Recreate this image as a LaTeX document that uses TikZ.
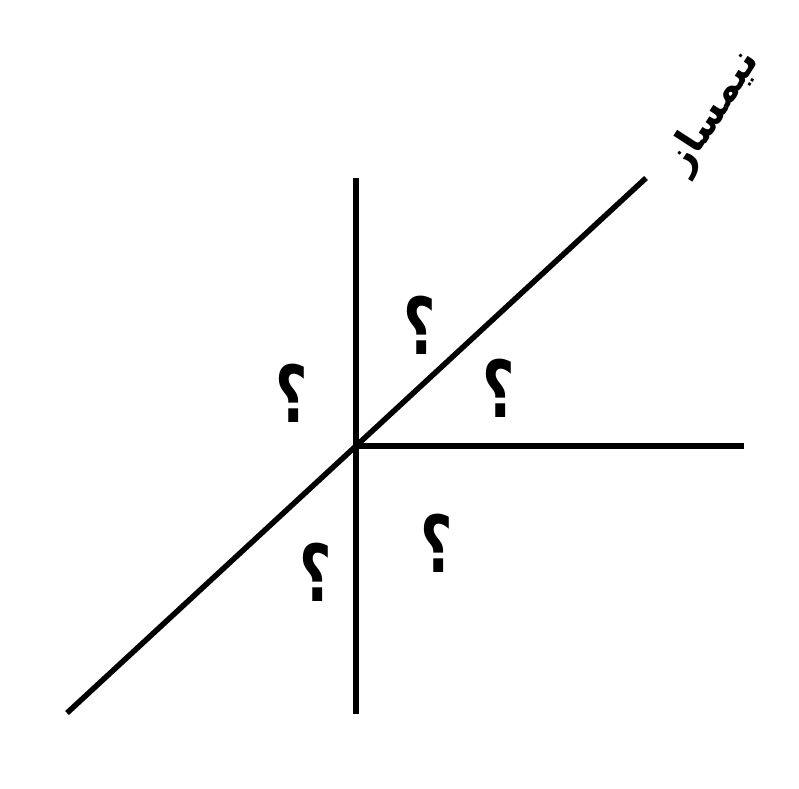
\documentclass[tikz,border=0pt]{standalone}
\usepackage{fontspec}
\usepackage{graphicx}
\TeXXeTstate=1
\newfontfamily\arabicfont[Script=Arabic]{DejaVu Sans}
\newcommand{\qmark}{\scalebox{0.9}[1.27]{\arabicfont\bfseries\fontsize{62}{62}\selectfont\beginR ؟\endR}}
\begin{document}
\begin{tikzpicture}[x=1pt,y=-1pt,
  ln/.style={line width=5.5pt},
  qm/.style={inner sep=0pt}]
\useasboundingbox (0,0) rectangle (799,788);
\coordinate (O) at (356,446);
\coordinate (T) at (356,178);
\coordinate (B) at (356,714);
\coordinate (R) at (744,446);
\coordinate (DL) at (67,713);
\coordinate (DU) at (646,178);
\draw[ln] (T) -- (B);
\draw[ln] (O) -- (R);
\draw[ln] (DL) -- (DU);
\node[font=\arabicfont\bfseries\fontsize{40}{40}\selectfont, rotate=57, inner sep=0pt] (lbl) at (714,112) {\beginR نیمساز\endR};
\node[qm] (q1) at (420,325) {\qmark};
\node[qm] (q2) at (499,388) {\qmark};
\node[qm] (q3) at (292,393) {\qmark};
\node[qm] (q4) at (316,572) {\qmark};
\node[qm] (q5) at (437,543) {\qmark};
\end{tikzpicture}
\end{document}
